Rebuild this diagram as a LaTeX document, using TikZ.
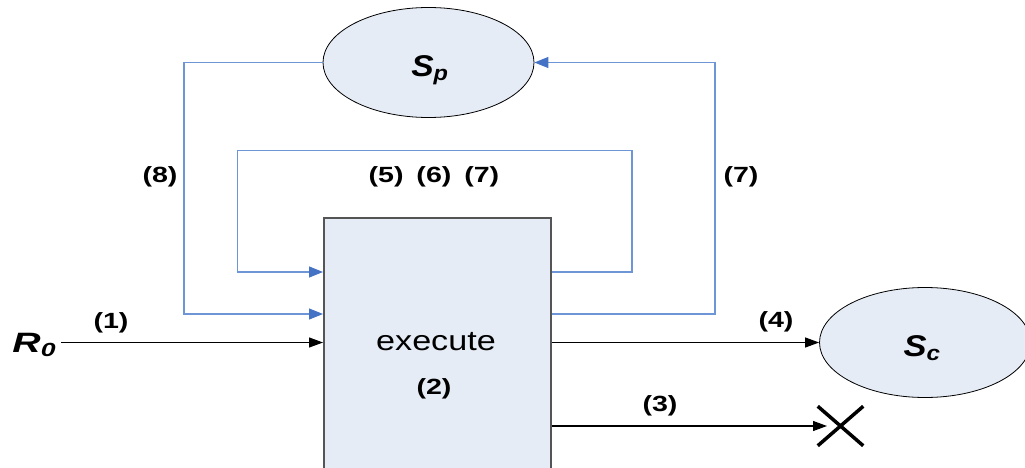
\documentclass[tikz,border=0pt]{standalone}
\usepackage{graphicx}
\usepackage{fontspec}
\setmainfont{Liberation Sans}
\usetikzlibrary{shapes.geometric,shapes.misc,arrows.meta}
\definecolor{boxfill}{HTML}{E6ECF6}
\definecolor{fbline}{HTML}{6E95D6}
\definecolor{fbtip}{HTML}{4472C4}
\definecolor{boxedge}{HTML}{555555}
% widened lettering
\newcommand\wideby[2]{\scalebox{#1}[1]{#2}}
\newcommand\steplabel[1]{\wideby{1.3}{#1}}
\begin{document}
\begin{tikzpicture}[x=1pt,y=-1pt,
  lbl/.style={font=\fontsize{22}{26}\selectfont\bfseries, inner sep=0pt},
  sym/.style={font=\fontsize{30}{30}\selectfont\bfseries\itshape, inner sep=0pt},
  state/.style={ellipse, draw=black, line width=0.8pt, fill=boxfill,
    minimum width=211pt, minimum height=110pt, inner sep=0pt},
  fbplain/.style={draw=fbline, line width=1.2pt},
  fb/.style={fbplain, -{Triangle[length=14pt,width=11pt,color=fbtip]}},
  flow/.style={draw=black, line width=1.1pt, -{Triangle[length=14pt,width=10pt]}},
]
\useasboundingbox (0,0) rectangle (1025,468);
\clip (0,0) rectangle (1025,468);

% processing block
\node[draw=boxedge, line width=1.8pt, fill=boxfill, anchor=north west,
  minimum width=227pt, minimum height=290pt, inner sep=0pt] (exec) at (323,217) {};
\node[font=\fontsize{28}{30}\selectfont, inner sep=0pt] (exectxt) at (436,342) {\wideby{1.22}{execute}};
\node[lbl] (l2) at (434,389) {\steplabel{(2)}};

% states
\node[state] (sp) at (428.5,62.5) {};
\node[sym] (sptxt) at (430,70) {\wideby{1.12}{S\textsubscript{p}}};
\node[state] (sc) at (925,342.5) {};
\node[sym] (sctxt) at (922,348) {\wideby{1.15}{S\textsubscript{c}}};

% input
\node[sym, font=\fontsize{28}{30}\selectfont\bfseries\itshape] (r0) at (34,345)
  {\wideby{1.4}{R{\fontsize{19}{19}\selectfont\raisebox{-4pt}{0}}}};
\coordinate (r0out) at (61,342.5);
\draw[flow] (r0out) -- (exec.west |- r0out);
\node[lbl] (l1) at (111,323) {\steplabel{(1)}};

% outputs
\draw[flow] (exec.east |- sc.west) -- (sc.west);
\node[lbl] (l4) at (776,322) {\steplabel{(4)}};
\node[cross out, draw=black, line width=3.5pt, minimum width=42pt, minimum height=36pt,
  inner sep=0pt] (drop) at (840.5,426) {};
\draw[flow, shorten >=13.5pt] (exec.east |- drop.center) -- (drop.center);
\node[lbl] (l3) at (660,406) {\steplabel{(3)}};

% inner feedback loop
\coordinate (inR) at (632,272);
\coordinate (inT) at (237.7,150.7);
\draw[fb] (exec.east |- inR) -- (inR) |- (inT) |- (exec.west |- inR);
\node[lbl] (l567) at (434,177) {\steplabel{(5)\hspace{0.45em}(6)\hspace{0.45em}(7)}};

% outer loop through S_p
\coordinate (outR) at (715,314);
\coordinate (outL) at (184,314);
\draw[fb] (exec.east |- outR) -- (outR) |- (sp.east);
\draw[fb] (sp.west) -| (outL) -- (exec.west |- outL);
\node[lbl] (l7) at (741,177) {\steplabel{(7)}};
\node[lbl] (l8) at (160,177) {\steplabel{(8)}};
\end{tikzpicture}
\end{document}
